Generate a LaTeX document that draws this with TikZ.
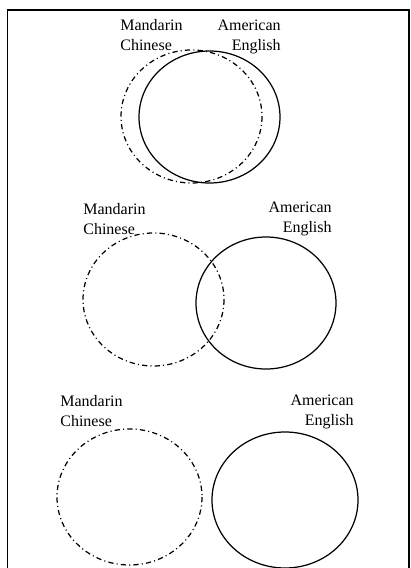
\documentclass[tikz,border=0pt]{standalone}
\usepackage{fontspec}
\setmainfont{Liberation Serif}
\usepackage{tikz}
\usetikzlibrary{positioning}

\begin{document}
\begin{tikzpicture}[
    x=0.02cm, y=-0.02cm,
    langlabel/.style={inner sep=0pt, font=\fontsize{9.1}{11.2}\selectfont},
    mandarin/.style={draw, line width=0.7pt, dash pattern=on 3pt off 1.8pt on 0.6pt off 1.8pt},
    english/.style={draw, line width=0.7pt},
    frameline/.style={draw, line width=1.1pt}
]

% Page
\useasboundingbox (0,0) rectangle (410,568);
\coordinate (bl) at (7.5,568);
\coordinate (tl) at (7.5,10);
\coordinate (tr) at (409,10);
\coordinate (br) at (409,568);
\draw[frameline] (bl) -- (tl) -- (tr) -- (br);

% Almost the same
\node[langlabel, anchor=north west, align=left] (mc1) at (120,19.5) {Mandarin\\Chinese};
\node[langlabel, anchor=north east, align=right] (ae1) at (281,19.5) {American\\English};
\draw[mandarin] (191.5,116.5) ellipse [x radius=70.5, y radius=66.5];
\draw[english] (209.5,117) ellipse [x radius=70.5, y radius=66];

% Overlapping
\node[langlabel, anchor=north west, align=left] (mc2) at (83,203) {Mandarin\\Chinese};
\node[langlabel, anchor=north east, align=right] (ae2) at (332,201.5) {American\\English};
\draw[mandarin] (153.5,299.5) ellipse [x radius=70.5, y radius=66.5];
\draw[english] (266,303) ellipse [x radius=70, y radius=66];

% Separate
\node[langlabel, anchor=north west, align=left] (mc3) at (60,395) {Mandarin\\Chinese};
\node[langlabel, anchor=north east, align=right] (ae3) at (354,395) {American\\English};
\draw[mandarin] (129.5,497) ellipse [x radius=72.5, y radius=68];
\draw[english] (285,500) ellipse [x radius=73, y radius=68];

\end{tikzpicture}
\end{document}
